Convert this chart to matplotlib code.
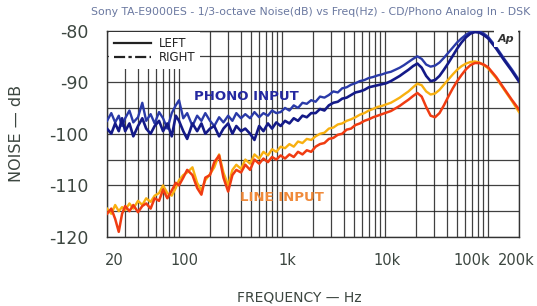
import matplotlib
matplotlib.use('Agg')
import matplotlib.pyplot as plt
from matplotlib.lines import Line2D
from matplotlib.ticker import LogLocator, NullFormatter

freqs = [
    20, 22, 24, 26, 28, 30, 33, 36, 40, 44, 48, 53, 58, 64, 70, 77, 85, 93,
    100, 110, 120, 135, 150, 165, 180, 200, 220, 245, 270, 300, 330, 360, 400, 440,
    490, 540, 600, 660, 730, 800, 880, 970,
    1070, 1180, 1300, 1430, 1580, 1740, 1920, 2120, 2340, 2580, 2850, 3150, 3480,
    3840, 4240, 4680, 5170, 5710, 6300, 6960, 7680, 8480, 9360,
    10300, 11400, 12600, 13900, 15300, 16900, 18700, 20600, 22700, 25100, 27700,
    30600, 33800, 37300, 41200, 45500, 50200, 55400, 61200, 67600, 74600, 82400,
    91000, 100000, 120000, 145000, 170000, 200000,
]

phono_left = [
    -97.5, -96.0, -97.8, -96.5, -98.5, -97.0, -95.5, -97.8, -96.8, -94.0, -97.5, -96.2, -98.0, -95.8, -97.0, -99.0, -96.0, -94.5,
    -93.5, -97.0, -96.0, -98.5, -96.5, -97.5, -96.0, -97.5, -98.5, -96.8, -97.8, -96.5, -97.5, -96.0, -97.0, -96.2,
    -97.0, -95.8, -96.8, -96.0, -96.5, -95.5, -96.0, -95.8,
    -95.0, -95.5, -94.5, -95.0, -94.0, -94.2, -93.5, -93.8, -92.8, -93.0, -92.5, -91.8, -92.0,
    -91.2, -91.0, -90.5, -90.2, -89.8, -89.6, -89.2, -89.0, -88.7, -88.5,
    -88.2, -88.0, -87.6, -87.2, -86.7, -86.1, -85.5, -85.0, -85.5, -86.6, -87.0,
    -86.8, -86.2, -85.3, -84.3, -83.3, -82.3, -81.5, -80.8, -80.3, -80.1, -80.2,
    -80.6, -81.2, -83.2, -85.6, -87.5, -89.6,
]

phono_right = [
    -99.0, -100.0, -98.0, -99.5, -97.0, -99.5, -98.0, -100.5, -98.5, -97.0, -99.0, -100.0, -98.5, -97.5, -99.5, -98.0, -100.5, -96.5,
    -97.5, -99.5, -101.0, -98.0, -99.5, -98.0, -100.0, -99.0, -98.5, -100.5, -99.0, -98.0, -100.0, -98.5, -99.5, -99.0,
    -100.0, -101.2, -98.5, -99.5, -98.0, -99.0, -97.8, -98.5,
    -97.5, -98.0, -97.0, -97.5, -96.5, -96.8, -96.0, -96.0, -95.2, -95.5, -94.5, -94.0, -93.8,
    -93.2, -93.0, -92.5, -92.0, -91.8, -91.5, -91.0, -90.8, -90.6, -90.4,
    -90.2, -89.8, -89.3, -88.8, -88.2, -87.6, -86.9, -86.4, -87.2, -88.8, -89.8,
    -89.6, -88.8, -87.6, -86.3, -84.9, -83.5, -82.3, -81.3, -80.6, -80.3, -80.4,
    -80.9, -81.5, -83.5, -85.9, -87.8, -89.9,
]

line_left = [
    -114.5, -115.5, -113.8, -115.0, -114.2, -114.8, -113.5, -114.5, -113.0, -113.8, -112.5, -113.2, -112.0, -111.5, -110.0, -111.5, -112.0, -110.5,
    -109.0, -108.0, -107.5, -106.5, -109.5, -111.0, -109.0, -107.8, -106.5, -104.0, -107.5, -110.0, -107.0, -106.0, -106.8, -105.0,
    -105.8, -104.0, -104.8, -103.5, -104.2, -103.0, -103.5, -102.5,
    -102.8, -102.0, -102.5, -101.5, -101.8, -101.0, -101.2, -100.5, -100.0, -99.8, -99.0, -98.8, -98.2,
    -98.0, -97.5, -97.2, -96.8, -96.3, -96.0, -95.5, -95.2, -94.8, -94.6,
    -94.3, -94.0, -93.5, -93.0, -92.4, -91.8, -91.0, -90.3, -90.6, -91.8, -92.4,
    -92.2, -91.5, -90.5, -89.5, -88.5, -87.6, -86.9, -86.4, -86.1, -86.0, -86.2,
    -86.7, -87.3, -89.2, -91.6, -93.6, -95.8,
]

line_right = [
    -115.5, -114.5, -116.5, -119.0, -115.5, -114.0, -115.0, -113.8, -115.2, -114.0, -113.5, -114.5, -112.5, -113.0, -110.8, -112.5, -111.0, -109.5,
    -110.0, -108.5, -107.0, -108.0, -110.5, -111.8, -108.5, -108.0, -105.5, -104.2, -108.5, -111.2, -108.0, -107.0, -107.5, -106.0,
    -107.0, -105.0, -105.8, -104.8, -105.5, -104.5, -105.0, -104.2,
    -104.8, -104.0, -104.5, -103.5, -104.0, -103.2, -103.5, -102.5, -102.0, -101.8, -101.0, -100.8, -100.2,
    -100.0, -99.2, -99.0, -98.3, -98.0, -97.5, -97.2, -96.8, -96.5, -96.2,
    -95.9, -95.6, -95.1, -94.6, -94.0, -93.4, -92.7, -92.1, -92.8, -94.8, -96.5,
    -96.8, -96.0, -94.5, -92.8, -91.2, -89.8, -88.6, -87.5, -86.7, -86.3, -86.3,
    -86.6, -87.1, -89.0, -91.4, -93.4, -95.3,
]

xticks = [20, 100, 1000, 10000, 100000, 200000]
xtick_labels = ['20', '100', '1k', '10k', '100k', '200k']
# label nudges (pixels) so 100k / 200k don't collide, like the original
xtick_nudge = [7, 5, 5, 2, -16, -3]
ygrid = [-120, -115, -110, -105, -100, -95, -90, -85, -80]
ytick_labels = ['-120', '', '-110', '', '-100', '', '-90', '', '-80']

txt = '#3c4640'

fig = plt.figure(figsize=(5.37, 3.06), dpi=100)
ax = fig.add_axes([0.1993, 0.2255, 0.7672, 0.6748])

ax.plot(freqs, phono_left, color='#2a3aa8', lw=1.7, zorder=3)
ax.plot(freqs, phono_right, color='#141a88', lw=1.9, zorder=3)
ax.plot(freqs, line_left, color='#f8b010', lw=1.7, zorder=3)
ax.plot(freqs, line_right, color='#f03c12', lw=1.8, zorder=3)

ax.set_xscale('log')
ax.set_xlim(20, 200000)
ax.set_ylim(-120, -80)

ax.xaxis.set_major_locator(LogLocator(base=10, subs=range(1, 10), numticks=30))
ax.xaxis.set_major_formatter(NullFormatter())
ax.xaxis.set_minor_formatter(NullFormatter())
ax.set_yticks(ygrid, ytick_labels)
ax.grid(True, which='major', color='#1e1e1e', lw=0.9, alpha=0.85, zorder=1)
ax.tick_params(which='both', length=0, labelbottom=False)
ax.tick_params(axis='y', pad=13, labelsize=12.5, labelcolor=txt)
for s in ax.spines.values():
    s.set_color('#333333')
    s.set_linewidth(1.0)

for x, lab, dx in zip(xticks, xtick_labels, xtick_nudge):
    ax.annotate(lab, xy=(x, 0), xycoords=('data', 'axes fraction'),
                xytext=(dx, -24), textcoords='offset pixels',
                ha='center', va='center', fontsize=10.5, color=txt)

ax.text(454, -92.7, 'PHONO INPUT', color='#2428a0', fontsize=9.5, fontweight='bold',
        ha='center', va='center', zorder=4)
ax.text(1000, -112.3, 'LINE INPUT', color='#f08a3a', fontsize=9.5, fontweight='bold',
        ha='center', va='center', zorder=4)

handles = [Line2D([], [], color='#222222', lw=1.6, ls='-'),
           Line2D([], [], color='#222222', lw=1.6, ls=(0, (5, 1.5, 1.5, 1.5)))]
leg = ax.legend(handles, ['LEFT', 'RIGHT'], loc='upper left', fontsize=8.5,
                frameon=True, framealpha=1, facecolor='white', edgecolor='none',
                borderaxespad=0.15, handlelength=3.2, handletextpad=0.6,
                labelspacing=0.1, borderpad=0.4, fancybox=False)
for t in leg.get_texts():
    t.set_color('#222222')
leg.set_zorder(5)

ax.text(0.988, 0.985, 'Ap', transform=ax.transAxes, ha='right', va='top',
        fontsize=8, fontstyle='italic', fontweight='bold', color='#333333', zorder=5,
        bbox=dict(fc='white', ec='none', pad=2.5))

fig.text(0.987, 0.96, 'Sony TA-E9000ES - 1/3-octave Noise(dB) vs Freq(Hz) - CD/Phono Analog In - DSK',
         ha='right', va='center', fontsize=7.8, color='#6a78a0')
fig.text(0.03, 0.565, 'NOISE \u2014 dB', rotation=90, ha='center', va='center',
         fontsize=11.5, color=txt)
fig.text(0.557, 0.028, 'FREQUENCY \u2014 Hz', ha='center', va='center',
         fontsize=10, color=txt)

fig.savefig('out.png', dpi=100)
